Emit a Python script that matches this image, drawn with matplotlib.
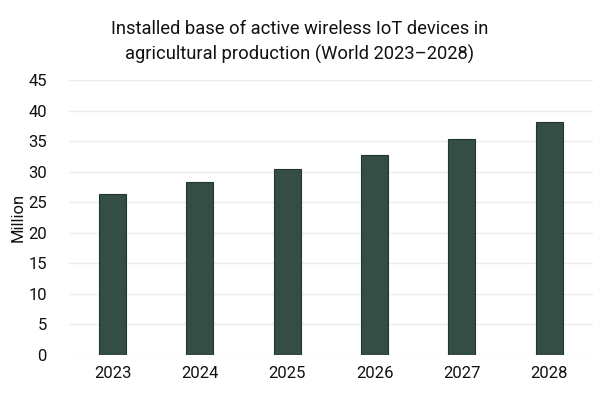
import matplotlib
matplotlib.use("Agg")
import matplotlib.pyplot as plt

years = ["2023", "2024", "2025", "2026", "2027", "2028"]
values = [26.4, 28.3, 30.4, 32.7, 35.3, 38.1]
yticks = [0, 5, 10, 15, 20, 25, 30, 35, 40, 45]

plt.rcParams['font.family'] = ['Roboto', 'DejaVu Sans']

fig = plt.figure(figsize=(6, 4), dpi=100)
ax = fig.add_axes([0.115, 0.1125, 0.873, 0.6875])

ax.bar(range(len(years)), values, width=0.31, color="#344e45",
       edgecolor="#22352e", linewidth=0.8, zorder=3)
ax.set_xlim(-0.5, len(years) - 0.5)
ax.set_ylim(0, 45)
ax.set_yticks(yticks)
ax.set_xticks(range(len(years)))
ax.set_xticklabels(years)
ax.grid(axis="y", color="#ebebeb", linewidth=1, zorder=0)
for s in ax.spines.values():
    s.set_visible(False)
ax.tick_params(axis="both", length=0, labelsize=12, colors="#111111", pad=8)
ax.tick_params(axis="y", pad=16)
ax.set_ylabel("Million", fontsize=12, color="#111111", labelpad=2)

fig.text(0.5, 0.895, "Installed base of active wireless IoT devices in\nagricultural production (World 2023\u20132028)",
         ha="center", va="center", fontsize=13.2, color="#111111", linespacing=1.4)

fig.savefig("out.png", dpi=100)
